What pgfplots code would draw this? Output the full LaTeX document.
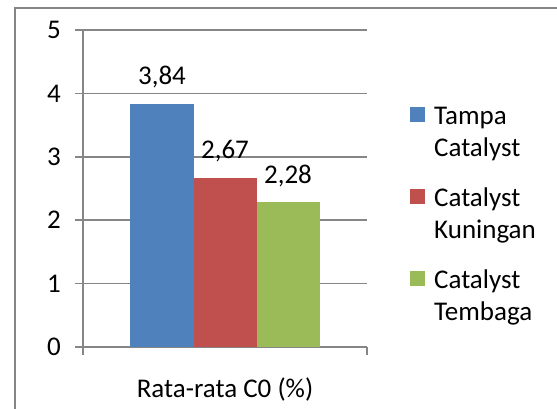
\documentclass[border=0pt]{standalone}
\usepackage{fontspec}
\setmainfont{Carlito}
\usepackage{pgfplots}
\pgfplotsset{compat=1.18}

\definecolor{barblue}{HTML}{4F81BD}
\definecolor{barred}{HTML}{C0504D}
\definecolor{bargreen}{HTML}{9BBB59}
\definecolor{gridgray}{HTML}{868686}

\begin{document}
\begin{tikzpicture}[x=1pt,y=1pt,font=\fontsize{27}{32}\selectfont]
\useasboundingbox (0,0) rectangle (557,408);
% chart frame
\draw[gridgray, line width=1.5pt] (15,-5) -- (15,400) -- (565,400);
\begin{axis}[
  at={(83pt,61pt)}, anchor=south west,
  scale only axis, width=284pt, height=317pt,
  xmin=-0.5, xmax=0.5, ymin=0, ymax=5,
  axis x line=bottom, axis y line=left,
  axis line style={gridgray, line width=1.5pt, -},
  every tick/.style={gridgray, line width=1.5pt},
  tick align=outside, major tick length=8pt,
  xtick={-0.5,0.5}, xticklabels={},
  ytick={0,1,2,3,4,5},
  ymajorgrids, grid style={gridgray, line width=1.5pt},
  /pgf/number format/assume math mode=true,
  yticklabel style={anchor=east, inner sep=0pt, xshift=-14pt},
  xlabel={Rata-rata C0 (\%)},
  xlabel style={at={(axis description cs:0.5,0)}, anchor=base, yshift=-50pt, inner sep=0pt},
  ybar, bar width=63pt, clip=false,
  nodes near coords={\pgfmathprintnumber[use comma,fixed,fixed zerofill,precision=2,assume math mode=true]{\pgfplotspointmeta}},
  nodes near coords style={anchor=base, yshift=19pt, inner sep=0pt, text=black},
  legend cell align=left,
  % square sits on the baseline of the first of two text lines
  legend image code/.code={\path (0pt,0pt); \fill[#1] (0pt,10pt) rectangle (15pt,25pt);},
  legend style={draw=none, fill=none, at={(1.1514,0.765)}, anchor=north west,
    inner sep=0pt, row sep=26pt, column sep=7pt,
    cells={align=left, inner sep=0pt}},
]
\addplot[fill=barblue, draw=none, bar shift=-63pt] coordinates {(0,3.84)};
\addplot[fill=barred, draw=none, bar shift=0pt] coordinates {(0,2.67)};
\addplot[fill=bargreen, draw=none, bar shift=63pt] coordinates {(0,2.28)};
\legend{Tampa\\Catalyst, Catalyst\\Kuningan, Catalyst\\Tembaga}
\end{axis}
\end{tikzpicture}
\end{document}
